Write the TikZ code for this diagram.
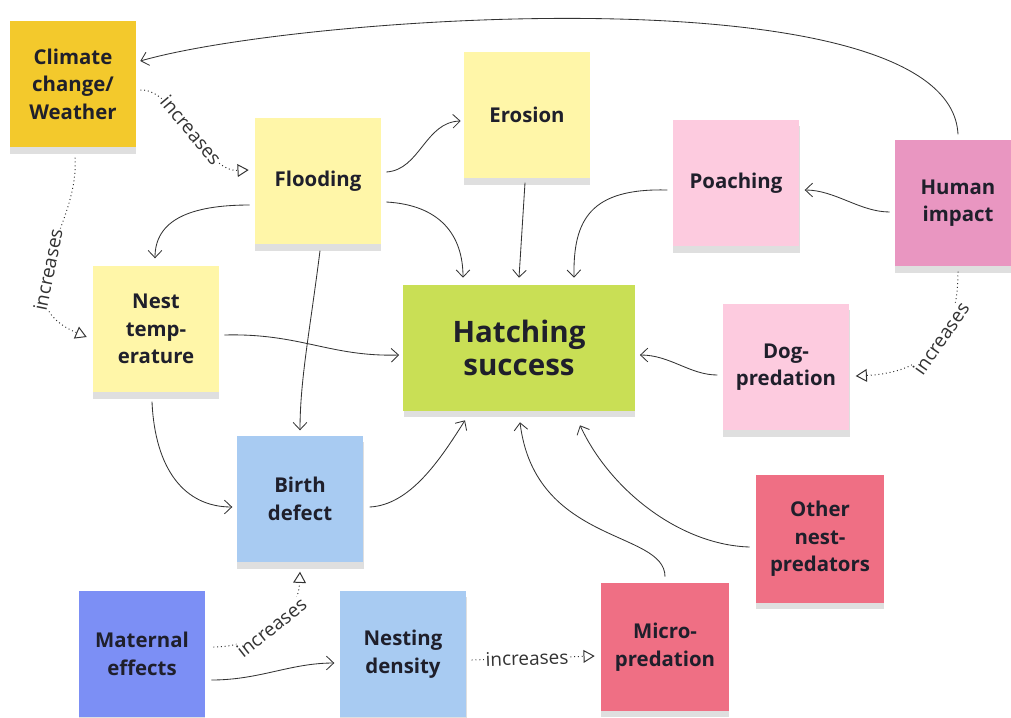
\documentclass[tikz,border=0pt]{standalone}
\usepackage{fontspec}
\setmainfont{Open Sans}
\usepackage{xcolor}
\usetikzlibrary{arrows.meta,positioning,shadows}
\definecolor{notegold}{HTML}{F3C92C}
\definecolor{notelemon}{HTML}{FFF6A8}
\definecolor{noteblush}{HTML}{FDCBDF}
\definecolor{noteorchid}{HTML}{E996C1}
\definecolor{notelime}{HTML}{C9DF55}
\definecolor{notesky}{HTML}{A8CBF2}
\definecolor{notecoral}{HTML}{EF6F84}
\definecolor{noteperi}{HTML}{7C8FF5}
\definecolor{inktext}{HTML}{1F1F2B}
\definecolor{linkgray}{HTML}{333333}
\tikzset{
  goldnote/.style={
    rectangle,
    fill=notegold,
    align=center,
    minimum width=3.15cm,
    minimum height=3.17cm,
    inner sep=0pt,
    text=inktext,
    font=\bfseries\fontsize{14.5}{19.5}\selectfont,
    drop shadow={shadow xshift=0.3pt, shadow yshift=-4.5pt, opacity=0.25}
  },
  lemonnote/.style={
    rectangle,
    fill=notelemon,
    align=center,
    minimum width=3.15cm,
    minimum height=3.17cm,
    inner sep=0pt,
    text=inktext,
    font=\bfseries\fontsize{14.5}{19.5}\selectfont,
    drop shadow={shadow xshift=0.3pt, shadow yshift=-4.5pt, opacity=0.25}
  },
  blushnote/.style={
    rectangle,
    fill=noteblush,
    align=center,
    minimum width=3.17cm,
    minimum height=3.17cm,
    inner sep=0pt,
    text=inktext,
    font=\bfseries\fontsize{14.5}{19.5}\selectfont,
    drop shadow={shadow xshift=0.3pt, shadow yshift=-4.5pt, opacity=0.25}
  },
  orchidnote/.style={
    rectangle,
    fill=noteorchid,
    align=center,
    minimum width=3.15cm,
    minimum height=3.17cm,
    inner sep=0pt,
    text=inktext,
    font=\bfseries\fontsize{14.5}{19.5}\selectfont,
    drop shadow={shadow xshift=0.3pt, shadow yshift=-4.5pt, opacity=0.25}
  },
  limenote/.style={
    rectangle,
    fill=notelime,
    align=center,
    minimum width=5.78cm,
    minimum height=3.15cm,
    inner sep=0pt,
    text=inktext,
    font=\bfseries\fontsize{21}{23.5}\selectfont,
    drop shadow={shadow xshift=0.3pt, shadow yshift=-4.5pt, opacity=0.25}
  },
  skynote/.style={
    rectangle,
    fill=notesky,
    align=center,
    minimum width=3.17cm,
    minimum height=3.17cm,
    inner sep=0pt,
    text=inktext,
    font=\bfseries\fontsize{14.5}{19.5}\selectfont,
    drop shadow={shadow xshift=0.3pt, shadow yshift=-4.5pt, opacity=0.25}
  },
  coralnote/.style={
    rectangle,
    fill=notecoral,
    align=center,
    minimum width=3.2cm,
    minimum height=3.2cm,
    inner sep=0pt,
    text=inktext,
    font=\bfseries\fontsize{14.5}{19.5}\selectfont,
    drop shadow={shadow xshift=0.3pt, shadow yshift=-4.5pt, opacity=0.25}
  },
  perinote/.style={
    rectangle,
    fill=noteperi,
    align=center,
    minimum width=3.15cm,
    minimum height=3.17cm,
    inner sep=0pt,
    text=inktext,
    font=\bfseries\fontsize{14.5}{19.5}\selectfont,
    drop shadow={shadow xshift=0.3pt, shadow yshift=-4.5pt, opacity=0.25}
  },
  link/.style={-{Straight Barb[length=1.8mm,width=3.4mm]}, draw=linkgray, line width=0.6pt},
  boost/.style={-{Triangle[open,length=2.8mm,width=3.2mm,line width=0.7pt]}, draw=linkgray, dotted, line width=0.7pt},
  tag/.style={sloped, fill=white, inner sep=1pt, text=linkgray, font=\fontsize{13.5}{15}\selectfont}
}

\begin{document}
\begin{tikzpicture}[x=0.025cm, y=-0.025cm]
  \useasboundingbox (0,0) rectangle (1011,717);
  \clip (0,0) rectangle (1011,717);

  \node[goldnote] (climate) at (73,84) {Climate\\change/\\Weather};
  \node[lemonnote] (flooding) at (318,181) {Flooding};
  \node[lemonnote] (erosion) at (527,115) {Erosion};
  \node[blushnote] (poaching) at (736,183) {Poaching};
  \node[orchidnote] (human) at (958,203) {Human\\impact};
  \node[lemonnote] (nesttemp) at (156,329) {Nest\\temp-\\erature};
  \node[limenote] (hatching) at (519,348) {Hatching\\success};
  \node[blushnote] (dog) at (786,367) {Dog-\\predation};
  \node[skynote] (birth) at (300,499) {Birth\\defect};
  \node[coralnote] (othernest) at (820,539) {Other\\nest-\\predators};
  \node[perinote] (maternal) at (142,654) {Maternal\\effects};
  \node[skynote] (density) at (403,654) {Nesting\\density};
  \node[coralnote] (micro) at (665,647) {Micro-\\predation};

  % plain influences
  \draw[link] ([shift={(0,-5)}]human.north) .. controls (950,-30) and (300,15) .. ([shift={(4,-23)}]climate.east);
  \draw[link] ([shift={(5,-9)}]flooding.east) .. controls (420,170) and (425,122) .. ([shift={(-3,6)}]erosion.west);
  \draw[link] ([shift={(5,21)}]flooding.east) .. controls (440,205) and (463,235) .. ([shift={(-56,-7)}]hatching.north);
  \draw[link] ([shift={(-5,24)}]flooding.west) .. controls (190,205) and (155,220) .. ([shift={(-1,-7)}]nesttemp.north);
  \draw[link] ([shift={(2,6)}]flooding.south) .. controls (310,330) and (300,380) .. ([shift={(0,-5)}]birth.north);
  \draw[link] ([shift={(-2,4)}]erosion.south) -- ([shift={(0,-7)}]hatching.north);
  \draw[link] ([shift={(-5,7)}]poaching.west) .. controls (590,188) and (573,220) .. ([shift={(55,-7)}]hatching.north);
  \draw[link] ([shift={(-5,9)}]human.west) .. controls (860,212) and (835,190) .. ([shift={(5,7)}]poaching.east);
  \draw[link] ([shift={(-5,8)}]dog.west) .. controls (690,375) and (670,355) .. ([shift={(5,7)}]hatching.east);
  \draw[link] ([shift={(5,6)}]nesttemp.east) .. controls (300,333) and (330,357) .. ([shift={(-4,7)}]hatching.west);
  \draw[link] ([shift={(-4,9)}]nesttemp.south) .. controls (155,470) and (185,507) .. ([shift={(-4,8)}]birth.west);
  \draw[link] ([shift={(6,8)}]birth.east) .. controls (410,505) and (440,460) .. ([shift={(-54,9)}]hatching.south);
  \draw[link] ([shift={(0,-6)}]micro.north) .. controls (665,530) and (535,545) .. ([shift={(1,11)}]hatching.south);
  \draw[link] ([shift={(-6,8)}]othernest.west) .. controls (680,545) and (610,490) .. ([shift={(61,14)}]hatching.south);
  \draw[link] ([shift={(6,26)}]maternal.east) .. controls (260,680) and (290,663) .. ([shift={(-5,9)}]density.west);

  % "increases" links
  \draw[boost] ([shift={(4,6)}]climate.east) .. controls (175,88) and (205,172) .. ([shift={(-6,-11)}]flooding.west) node[tag, pos=0.5] {increases};
  \draw[boost] ([shift={(2,10)}]climate.south) .. controls (80,230) and (0,300) .. ([shift={(-6,8)}]nesttemp.west) node[tag, pos=0.55] {increases};
  \draw[boost] ([shift={(0,5)}]human.south) .. controls (958,330) and (935,372) .. ([shift={(6,9)}]dog.east) node[tag, pos=0.45] {increases};
  \draw[boost] ([shift={(8,-7)}]maternal.east) .. controls (255,647) and (298,620) .. ([shift={(0,9)}]birth.south) node[tag, pos=0.5] {increases};
  \draw[boost] ([shift={(5,6)}]density.east) -- ([shift={(-6,9)}]micro.west) node[tag, pos=0.45] {increases};
\end{tikzpicture}
\end{document}
